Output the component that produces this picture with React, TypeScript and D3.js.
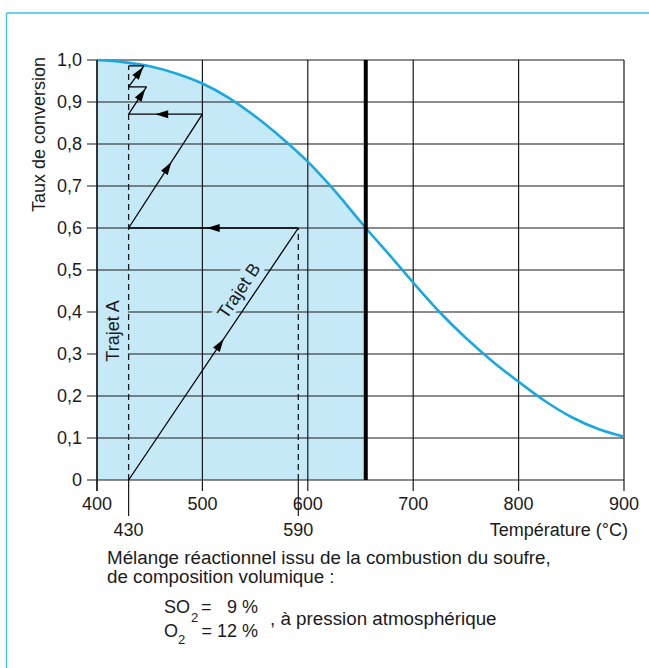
import React from 'react';
import * as d3 from 'd3';

// Equilibrium conversion curve
const temps = [400, 425, 450, 475, 500, 525, 550, 575, 600, 625, 650, 655, 675, 700, 725, 750, 775, 800, 825, 850, 875, 900];
const conv = [1.0, 0.995, 0.985, 0.968, 0.944, 0.91, 0.866, 0.815, 0.758, 0.69, 0.615, 0.6, 0.543, 0.47, 0.4, 0.338, 0.283, 0.234, 0.188, 0.15, 0.122, 0.103];

const xTicks = [400, 500, 600, 700, 800, 900];
const yTicks = [0, 0.1, 0.2, 0.3, 0.4, 0.5, 0.6, 0.7, 0.8, 0.9, 1.0];
const yTickLabels = ['0', '0,1', '0,2', '0,3', '0,4', '0,5', '0,6', '0,7', '0,8', '0,9', '1,0'];
const extraTicks = [430, 591];
const extraTickLabels = ['430', '590'];
const limitTemp = 655;

// Trajets (A and B): successive points (temperature, conversion)
const pathT = [430, 591, 430, 500, 430, 447, 430, 444.6, 430];
const pathC = [0, 0.6, 0.6, 0.871, 0.871, 0.936, 0.936, 0.986, 0.986];
const arrowTip: (number | null)[] = [0.56, 0.54, 0.58, 0.64, 0.93, null, 0.95, null];

const FONT = '"Liberation Sans", Arial, Helvetica, sans-serif';
const BLUE = '#1ba8e0';
const FILL = '#c6e9f8';
const FRAME = '#3dbfea';
const INK = '#1a1a1a';
const FS = 18;
const FSN = 18.8;

export default function App() {
  const x = d3.scaleLinear().domain([400, 900]).range([97, 624]);
  const y = d3.scaleLinear().domain([0, 1]).range([480, 60]);

  const pts = temps.map((t, i) => [t, conv[i]] as [number, number]);
  const line = d3.line<[number, number]>().x(d => x(d[0])).y(d => y(d[1])).curve(d3.curveMonotoneX);
  const area = d3.area<[number, number]>().x(d => x(d[0])).y0(y(0)).y1(d => y(d[1])).curve(d3.curveMonotoneX);
  const shaded = pts.filter(d => d[0] <= limitTemp);

  const segs = pathT.slice(0, -1).map((t, i) => ({
    x1: x(t), y1: y(pathC[i]), x2: x(pathT[i + 1]), y2: y(pathC[i + 1]), tip: arrowTip[i],
  }));

  const arrow = (s: typeof segs[number]) => {
    if (s.tip == null) return null;
    const dx = s.x2 - s.x1, dy = s.y2 - s.y1;
    const len = Math.hypot(dx, dy);
    const ux = dx / len, uy = dy / len;
    const px = s.x1 + dx * s.tip, py = s.y1 + dy * s.tip;
    const L = 13, W = 4;
    const bx = px - ux * L, by = py - uy * L;
    return `M${px},${py}L${bx - uy * W},${by + ux * W}L${bx + uy * W},${by - ux * W}Z`;
  };

  const bx1 = x(pathT[0]), by1 = y(pathC[0]), bx2 = x(pathT[1]), by2 = y(pathC[1]);
  const angleB = (Math.atan2(by2 - by1, bx2 - bx1) * 180) / Math.PI;

  return (
    <svg width={649} height={668} style={{ position: 'absolute', left: 0, top: 0, background: '#fff' }} fontFamily={FONT}>
      {/* frame */}
      <line x1={6.5} y1={13} x2={649} y2={13} stroke={FRAME} strokeWidth={1.3} />
      <line x1={6.5} y1={13} x2={6.5} y2={668} stroke={FRAME} strokeWidth={1.3} />

      {/* shaded region */}
      <path d={area(shaded) || ''} fill={FILL} />

      {/* grid */}
      {yTicks.map((v, i) => (
        <line key={'h' + i} x1={87} x2={x(900)} y1={y(v)} y2={y(v)} stroke={INK} strokeWidth={1.2} />
      ))}
      {xTicks.map((v, i) => (
        <line key={'v' + i} x1={x(v)} x2={x(v)} y1={y(1)} y2={y(0) + 11} stroke={INK} strokeWidth={1.2} />
      ))}

      {/* Trajet A label */}
      <g transform={`translate(113,331) rotate(-90)`}>
        <rect x={-35} y={-15} width={70} height={30} fill={FILL} />
        <text textAnchor="middle" dy="0.36em" fontSize={FS} fill={INK}>Trajet A</text>
      </g>
      {/* Trajet B label */}
      <g transform={`translate(238.5,290.5) rotate(${angleB})`}>
        <rect x={-35} y={-10} width={70} height={20} fill={FILL} />
        <text textAnchor="middle" dy="0.36em" fontSize={FS} fill={INK}>Trajet B</text>
      </g>

      {/* curve */}
      <path d={line(pts) || ''} fill="none" stroke={BLUE} strokeWidth={2.6} />

      {/* limit line */}
      <line x1={x(limitTemp)} x2={x(limitTemp)} y1={y(1)} y2={y(0)} stroke="#000" strokeWidth={4} />

      {/* dashed verticals */}
      <line x1={x(extraTicks[0])} x2={x(extraTicks[0])} y1={y(0)} y2={y(pathC[pathC.length - 1])} stroke={INK} strokeWidth={1.3} strokeDasharray="6,4" />
      <line x1={x(extraTicks[1])} x2={x(extraTicks[1])} y1={y(0)} y2={y(pathC[1])} stroke={INK} strokeWidth={1.3} strokeDasharray="6,4" />
      {extraTicks.map((v, i) => (
        <line key={'et' + i} x1={x(v)} x2={x(v)} y1={y(0)} y2={y(0) + 36} stroke={INK} strokeWidth={1.2} />
      ))}

      {/* trajets */}
      {segs.map((s, i) => (
        <line key={'s' + i} x1={s.x1} y1={s.y1} x2={s.x2} y2={s.y2} stroke="#000" strokeWidth={1.3} />
      ))}
      {segs.map((s, i) => {
        const d = arrow(s);
        return d ? <path key={'a' + i} d={d} fill="#000" /> : null;
      })}

      {/* left axis */}
      <line x1={x(400)} x2={x(400)} y1={y(1)} y2={y(0) + 11} stroke={INK} strokeWidth={1.4} />

      {/* tick labels */}
      {yTicks.map((v, i) => (
        <text key={'yl' + i} x={82} y={y(v)} dy="0.36em" textAnchor="end" fontSize={FS} fill={INK}>{yTickLabels[i]}</text>
      ))}
      {xTicks.map((v, i) => (
        <text key={'xl' + i} x={x(v)} y={510} textAnchor="middle" fontSize={FS} fill={INK}>{v}</text>
      ))}
      {extraTicks.map((v, i) => (
        <text key={'el' + i} x={x(v)} y={536} textAnchor="middle" fontSize={FS} fill={INK}>{extraTickLabels[i]}</text>
      ))}
      <text x={628} y={536} textAnchor="end" fontSize={FS} fill={INK}>Température (°C)</text>
      <text transform="translate(45,57) rotate(-90)" textAnchor="end" fontSize={FS} fill={INK}>Taux de conversion</text>

      {/* notes */}
      <text x={107} y={564} fontSize={FSN} fill={INK}>Mélange réactionnel issu de la combustion du soufre,</text>
      <text x={107} y={583} fontSize={FSN} fill={INK}>de composition volumique :</text>
      <text x={164} y={613} fontSize={FS} fill={INK}>SO</text>
      <text x={191} y={622} fontSize={13} fill={INK}>2</text>
      <text x={201} y={613} fontSize={FS} fill={INK}>=</text>
      <text x={258} y={613} textAnchor="end" fontSize={FS} fill={INK}>9 %</text>
      <text x={164} y={637} fontSize={FS} fill={INK}>O</text>
      <text x={178} y={643.5} fontSize={13} fill={INK}>2</text>
      <text x={258} y={637} textAnchor="end" fontSize={FS} fill={INK}>= 12 %</text>
      <text x={270} y={625} fontSize={FSN} fill={INK}>, à pression atmosphérique</text>
    </svg>
  );
}
